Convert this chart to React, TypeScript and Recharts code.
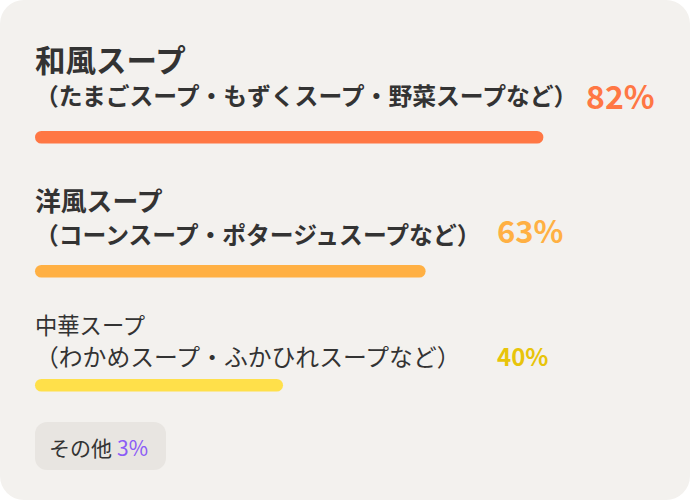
import React from 'react';
import { BarChart, Bar, XAxis, YAxis } from 'recharts';

const categories = ['和風スープ', '洋風スープ', '中華スープ'];
const subtitles = [
  '（たまごスープ・もずくスープ・野菜スープなど）',
  '（コーンスープ・ポタージュスープなど）',
  '（わかめスープ・ふかひれスープなど）',
];
const values = [82, 63, 40];
const percentLabels = ['82%', '63%', '40%'];
const otherLabel = 'その他';
const otherValue = '3%';

const FONT = '"Noto Sans CJK JP", "Noto Sans", sans-serif';
const barColors = ['#FF7744', '#FFB043', '#FFE04A'];
const pctColors = ['#FF7744', '#FFB043', '#E8C40A'];
const titleSize = [30.5, 25.8, 22.3];
const titleWeight = [700, 700, 400];
const titleY = [72, 211, 334];
const subWeight = [700, 700, 400];
const subSize = 23.8;
const subY = [105, 244, 366];
const pctSize = [32, 31, 24];
const pctX = [586, 497, 497];
const pctY = [109, 243, 366];
const barTop = [130, 264, 378];

export default function App() {
  return (
    <div style={{ position: 'absolute', left: 0, top: 0, width: 690, height: 500, background: '#ffffff' }}>
      <svg width={690} height={500} style={{ position: 'absolute', left: 0, top: 0 }}>
        <rect x={0} y={0} width={690} height={500} rx={24} ry={24} fill="#F3F1EE" />
        {categories.map((c, i) => (
          <g key={c}>
            <text x={35} y={titleY[i]} fontFamily={FONT} fontSize={titleSize[i]} fontWeight={titleWeight[i]} fill="#333333">{c}</text>
            <text x={35} y={subY[i]} fontFamily={FONT} fontSize={subSize} fontWeight={subWeight[i]} fill="#333333">{subtitles[i]}</text>
            <text x={pctX[i]} y={pctY[i]} fontFamily={FONT} fontSize={pctSize[i]} fontWeight={700} fill={pctColors[i]}>{percentLabels[i]}</text>
          </g>
        ))}
        <rect x={35} y={422} width={131} height={48} rx={12} ry={12} fill="#E8E5E1" />
        <text x={49} y={456} fontFamily={FONT} fontSize={21} fill="#333333">
          {otherLabel}
          <tspan fill="#8B5CF6" dx={5}>{otherValue}</tspan>
        </text>
      </svg>
      {categories.map((c, i) => (
        <div key={c} style={{ position: 'absolute', left: 0, top: barTop[i] }}>
          <BarChart width={690} height={14} layout="vertical" data={[{ name: c, value: values[i] }]} margin={{ top: 0, right: 35, bottom: 0, left: 35 }}>
            <XAxis type="number" domain={[0, 100]} hide />
            <YAxis type="category" dataKey="name" hide />
            <Bar dataKey="value" fill={barColors[i]} barSize={14} radius={7} isAnimationActive={false} />
          </BarChart>
        </div>
      ))}
    </div>
  );
}
